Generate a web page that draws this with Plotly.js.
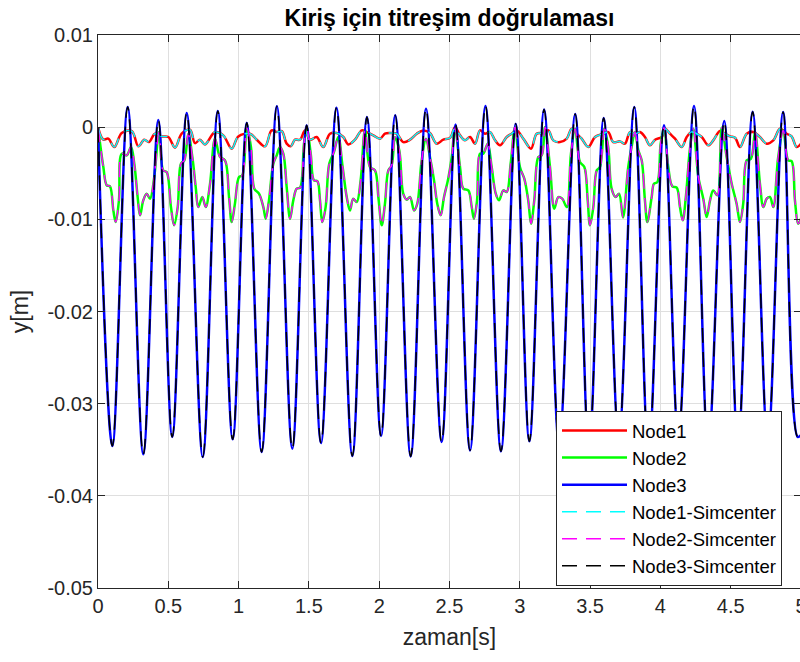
<!DOCTYPE html>
<html>
<head>
<meta charset="utf-8">
<script src="https://cdn.plot.ly/plotly-3.0.1.min.js"></script>
<style>
  html, body { margin: 0; padding: 0; overflow: hidden; background: #ffffff; }
</style>
</head>
<body>
<div id="chart" style="width:802px;height:662px"></div>
<script>
// Beam vibration check: three nodes, in-house solver vs. Simcenter.
// Time in seconds, displacement in millimetres (converted to metres for plotting).

const node1T = [0, 0.038, 0.073, 0.116, 0.169, 0.240, 0.287, 0.329, 0.363, 0.405,
  0.453, 0.500, 0.548, 0.595, 0.654, 0.690, 0.725, 0.761, 0.832, 0.891,
  0.951, 0.998, 1.081, 1.129, 1.188, 1.235, 1.271, 1.307, 1.342, 1.371,
  1.401, 1.437, 1.472, 1.508, 1.555, 1.602, 1.650, 1.698, 1.745, 1.780,
  1.828, 1.876, 1.911, 1.958, 2.006, 2.041, 2.077, 2.124, 2.171, 2.219,
  2.267, 2.314, 2.361, 2.409, 2.456, 2.504, 2.539, 2.575, 2.610, 2.646,
  2.682, 2.717, 2.752, 2.788, 2.824, 2.859, 2.907, 2.942, 2.978, 3.025,
  3.080, 3.120, 3.167, 3.203, 3.238, 3.286, 3.334, 3.369, 3.405, 3.440,
  3.487, 3.535, 3.594, 3.629, 3.665, 3.713, 3.748, 3.784, 3.819, 3.855,
  3.890, 3.926, 3.962, 4.009, 4.033, 4.068, 4.104, 4.152, 4.187, 4.223,
  4.258, 4.294, 4.341, 4.376, 4.424, 4.459, 4.495, 4.531, 4.566, 4.614,
  4.661, 4.708, 4.756, 4.803, 4.851, 4.898, 4.933, 4.969, 5.0];
const node1Mm = [0, -1.36, -1.25, -2.16, -0.64, -0.42, -2.08, -1.36, -1.62, -0.71,
  -1.00, -1.07, -2.22, -0.71, -0.27, -1.73, -1.36, -1.87, -0.53, -0.89,
  -2.33, -1.00, -0.71, -1.36, -2.08, -0.35, -0.53, -0.42, -1.79, -2.08,
  -1.36, -1.36, -0.35, -1.36, -1.07, -2.16, -0.71, -0.64, -1.07, -1.87,
  -1.36, -0.35, -0.53, -0.89, -1.25, -0.71, -0.64, -0.71, -1.62, -1.36,
  -0.71, -0.35, -0.64, -1.79, -1.36, -1.16, 0, -0.89, -1.43, -1.07,
  -1.79, -0.35, -0.71, -0.53, -1.43, -1.97, -1.07, -0.71, -0.35, -1.25,
  -2.33, -0.71, -0.64, -0.35, -1.43, -1.62, -1.25, -0.16, -0.71, -1.25,
  -2.16, -1.07, -0.71, -0.53, -1.62, -1.54, -1.79, -0.53, -0.71, -0.53,
  -1.07, -1.97, -1.36, -1.07, -0.16, -0.71, -1.25, -2.16, -1.07, -0.53,
  -0.71, -1.07, -1.97, -1.43, -0.42, -0.71, -1.00, -1.14, -2.16, -0.71,
  -0.53, -1.07, -1.79, -1.43, -0.16, -0.71, -1.00, -2.16, -1.79];

const node2T = [0, 0.038, 0.062, 0.085, 0.109, 0.126, 0.149, 0.169, 0.204, 0.235,
  0.258, 0.282, 0.299, 0.322, 0.346, 0.370, 0.400, 0.434, 0.464, 0.488,
  0.519, 0.541, 0.567, 0.590, 0.614, 0.642, 0.671, 0.695, 0.713, 0.742,
  0.766, 0.797, 0.832, 0.868, 0.903, 0.932, 0.951, 0.974, 1.003, 1.026,
  1.058, 1.088, 1.112, 1.145, 1.176, 1.193, 1.216, 1.247, 1.271, 1.294,
  1.318, 1.342, 1.366, 1.389, 1.413, 1.437, 1.465, 1.484, 1.513, 1.536,
  1.560, 1.579, 1.595, 1.619, 1.645, 1.678, 1.709, 1.740, 1.769, 1.792,
  1.815, 1.840, 1.868, 1.899, 1.935, 1.970, 1.994, 2.018, 2.041, 2.065,
  2.089, 2.112, 2.143, 2.171, 2.196, 2.219, 2.248, 2.271, 2.302, 2.333,
  2.361, 2.390, 2.413, 2.437, 2.461, 2.491, 2.516, 2.539, 2.575, 2.598,
  2.634, 2.658, 2.674, 2.696, 2.717, 2.740, 2.772, 2.800, 2.829, 2.852,
  2.883, 2.907, 2.935, 2.966, 3.001, 3.032, 3.060, 3.080, 3.103, 3.132,
  3.156, 3.179, 3.215, 3.245, 3.274, 3.302, 3.334, 3.364, 3.393, 3.428,
  3.459, 3.483, 3.499, 3.523, 3.547, 3.570, 3.601, 3.629, 3.653, 3.682,
  3.706, 3.734, 3.771, 3.795, 3.819, 3.843, 3.867, 3.890, 3.907, 3.938,
  3.954, 3.978, 4.002, 4.026, 4.056, 4.085, 4.116, 4.139, 4.159, 4.182,
  4.210, 4.234, 4.270, 4.305, 4.329, 4.353, 4.376, 4.405, 4.436, 4.471,
  4.507, 4.542, 4.566, 4.589, 4.614, 4.644, 4.673, 4.708, 4.732, 4.756,
  4.779, 4.803, 4.838, 4.874, 4.909, 4.933, 4.957, 4.980, 5.0];
const node2Mm = [0, -4.33, -6.31, -6.42, -9.03, -10.30, -7.94, -2.88, -3.06, -2.16,
  -3.96, -7.58, -9.57, -7.94, -7.22, -7.76, -5.41, -0.53, -4.69, -4.87,
  -8.67, -10.65, -8.67, -3.96, -3.60, -0.71, -3.24, -6.50, -8.67, -7.58,
  -8.67, -6.13, -1.25, -3.24, -3.60, -7.58, -10.30, -8.30, -5.41, -5.23,
  -0.10, -2.16, -6.67, -7.22, -8.67, -9.93, -7.94, -3.96, -3.06, -2.16,
  -2.88, -6.50, -9.93, -7.94, -6.67, -6.56, -1.79, -0.05, -2.88, -5.77,
  -5.85, -7.94, -10.30, -8.67, -3.96, -2.70, -1.07, -4.33, -7.58, -9.03,
  -7.76, -8.13, -5.77, -0.27, -4.33, -4.69, -7.58, -10.65, -8.30, -4.69,
  -4.14, -1.07, -2.52, -7.22, -7.87, -7.58, -9.03, -8.30, -3.60, -1.25,
  -3.24, -5.77, -8.30, -9.57, -7.58, -5.59, -3.24, -0.16, -4.33, -6.67,
  -6.86, -8.67, -9.93, -7.94, -2.88, -2.88, -1.79, -4.33, -7.22, -7.94,
  -6.86, -7.04, -3.96, 0.0, -4.33, -5.59, -7.94, -10.47, -7.94, -3.24,
  -3.06, 0.0, -4.33, -8.84, -7.58, -7.76, -8.67, -2.88, -0.16, -3.79,
  -4.33, -7.94, -10.65, -8.67, -4.69, -4.33, -0.16, -2.16, -6.67, -7.58,
  -7.22, -9.79, -4.33, -2.16, -0.53, -2.52, -3.60, -7.94, -10.30, -7.58,
  -6.13, -5.96, -1.79, -0.05, -4.33, -6.42, -6.56, -8.67, -10.11, -7.40,
  -2.33, -0.16, -5.41, -7.76, -9.75, -7.94, -6.86, -7.40, -0.05, -3.24,
  -6.13, -8.30, -10.30, -8.30, -3.60, -3.42, -0.53, -6.13, -8.67, -7.76,
  -7.58, -8.67, -3.24, -0.35, -3.60, -3.68, -7.94, -10.47, -9.93];

// Node 3: turning points of the dominant mode (troughs and crests)
const node3T = [0, 0.102, 0.211, 0.322, 0.429, 0.528, 0.631, 0.745, 0.852, 0.958,
  1.058, 1.164, 1.272, 1.382, 1.484, 1.586, 1.696, 1.809, 1.913, 2.013,
  2.114, 2.224, 2.333, 2.444, 2.543, 2.646, 2.756, 2.866, 2.971, 3.068,
  3.173, 3.280, 3.394, 3.492, 3.597, 3.704, 3.814, 3.916, 4.026, 4.128,
  4.239, 4.340, 4.454, 4.552, 4.656, 4.764, 4.873, 4.976, 5.0];
const node3Mm = [0, -34.60, 2.20, -35.50, 0.79, -33.62, 1.53, -35.79, 1.75, -33.87,
  0.49, -35.25, 2.26, -34.88, 0.20, -34.27, 2.12, -35.68, 1.10, -33.51,
  1.28, -35.72, 2.01, -34.17, 0.30, -35.07, 2.31, -35.17, 0.38, -34.09,
  1.93, -34.60, 1.44, -35.30, 0.99, -34.00, 2.18, -35.50, 0.20, -33.80,
  2.29, -35.00, 0.66, -34.70, 1.68, -34.30, 1.64, -33.60, -33.40];

// Simcenter results coincide with the solver curves at this scale
const node1SimT = node1T, node1SimMm = node1Mm;
const node2SimT = node2T, node2SimMm = node2Mm;
const node3SimT = node3T, node3SimMm = node3Mm;

const seriesNames = ['Node1', 'Node2', 'Node3', 'Node1-Simcenter', 'Node2-Simcenter', 'Node3-Simcenter'];
const xTickVals = [0, 0.5, 1, 1.5, 2, 2.5, 3, 3.5, 4, 4.5, 5];
const xTickText = ['0', '0.5', '1', '1.5', '2', '2.5', '3', '3.5', '4', '4.5', '5'];
const yTickVals = [0.01, 0, -0.01, -0.02, -0.03, -0.04, -0.05];
const yTickText = ['0.01', '0', '-0.01', '-0.02', '-0.03', '-0.04', '-0.05'];

const FONT = 'Liberation Sans, Arial, Helvetica, sans-serif';
const AXIS_COLOR = '#262626';

function toMetres(mm) { return mm.map(v => v / 1000); }

function solidTrace(name, t, mm, color) {
  return {
    type: 'scatter', mode: 'lines', name: name,
    x: t, y: toMetres(mm),
    line: { color: color, width: 2.5, shape: 'spline', smoothing: 1 }
  };
}

function dashedTrace(name, t, mm, color) {
  return {
    type: 'scatter', mode: 'lines', name: name,
    x: t, y: toMetres(mm),
    line: { color: color, width: 1.5, dash: '15px,9px', shape: 'spline', smoothing: 1 }
  };
}

const traces = [
  solidTrace(seriesNames[0], node1T, node1Mm, '#ff0000'),
  solidTrace(seriesNames[1], node2T, node2Mm, '#00ff00'),
  solidTrace(seriesNames[2], node3T, node3Mm, '#0000ff'),
  dashedTrace(seriesNames[3], node1SimT, node1SimMm, '#00ffff'),
  dashedTrace(seriesNames[4], node2SimT, node2SimMm, '#ff00ff'),
  dashedTrace(seriesNames[5], node3SimT, node3SimMm, '#000000')
];

const axisCommon = {
  ticks: 'inside', ticklen: 7, tickwidth: 1, tickcolor: AXIS_COLOR,
  showline: true, linecolor: AXIS_COLOR, linewidth: 1, mirror: 'ticks',
  showgrid: true, gridcolor: '#dfdfdf', gridwidth: 1, zeroline: false,
  ticklabeloverflow: 'allow',
  tickfont: { family: FONT, size: 20, color: AXIS_COLOR }
};

const layout = {
  width: 802, height: 662,
  margin: { l: 98, r: 1, t: 35, b: 74 },
  paper_bgcolor: '#ffffff', plot_bgcolor: '#ffffff',
  showlegend: true,
  title: {
    text: 'Kiriş için titreşim doğrulaması',
    font: { family: FONT, size: 23, color: '#000000', weight: 'bold' },
    xref: 'paper', x: 0.5, xanchor: 'center',
    yref: 'container', y: 0.973, yanchor: 'middle'
  },
  xaxis: Object.assign({}, axisCommon, {
    range: [0, 5], tickmode: 'array', tickvals: xTickVals, ticktext: xTickText,
    title: { text: 'zaman[s]', font: { family: FONT, size: 23, color: AXIS_COLOR }, standoff: 12 }
  }),
  yaxis: Object.assign({}, axisCommon, {
    range: [-0.05, 0.01], tickmode: 'array', tickvals: yTickVals, ticktext: yTickText,
    title: { text: 'y[m]', font: { family: FONT, size: 23, color: AXIS_COLOR }, standoff: 12 }
  }),
  legend: {
    x: 0.6515, y: 0.32, xanchor: 'left', yanchor: 'top',
    bgcolor: '#ffffff', bordercolor: AXIS_COLOR, borderwidth: 1,
    font: { family: FONT, size: 18.5, color: '#000000' },
    itemwidth: 65, tracegroupgap: 0
  }
};

Plotly.newPlot('chart', traces, layout, { displayModeBar: false, staticPlot: true });
</script>
</body>
</html>
